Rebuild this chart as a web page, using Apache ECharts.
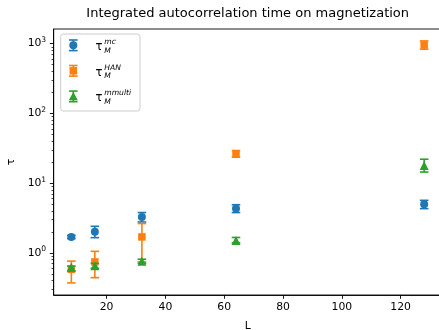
<!DOCTYPE html>
<html><head><meta charset="utf-8">
<script src="https://cdn.jsdelivr.net/npm/echarts@6/dist/echarts.min.js"></script>
<style>html,body{margin:0;padding:0;background:#fff}#c{width:439px;height:330px}</style>
</head><body><div id="c"></div>
<script>
// ---- data ----
const L = [8, 16, 32, 64, 128];
const tauMC = [1.68, 2.0, 3.27, 4.31, 4.96];
const tauMCLow = [1.6, 1.65, 2.77, 3.78, 4.3];
const tauMCHigh = [1.78, 2.4, 3.78, 4.9, 5.66];
const tauHAN = [0.58, 0.74, 1.69, 26.3, 958];
const tauHANLow = [0.37, 0.44, 0.74, 23.5, 832];
const tauHANHigh = [0.76, 1.05, 2.63, 29.3, 1094];
const tauMulti = [0.62, 0.65, 0.76, 1.5, 17.9];
const tauMultiLow = [0.553, 0.6, 0.71, 1.39, 14.4];
const tauMultiHigh = [0.646, 0.706, 0.81, 1.66, 22.0];
const xTicks = [20, 40, 60, 80, 100, 120];
const yTicks = [1, 10, 100, 1000];
const yMinorTicks = [0.3,0.4,0.5,0.6,0.7,0.8,0.9,2,3,4,5,6,7,8,9,20,30,40,50,60,70,80,90,200,300,400,500,600,700,800,900];
const seriesNames = ['mc', 'HAN', 'mmulti'];

const FONT = 'DejaVu Sans';
const colors = ['#1f77b4', '#ff7f0e', '#2ca02c'];
const symbols = ['circle', 'rect', 'triangle'];
const symSizes = [8, 7.5, 9];
const vals = [tauMC, tauHAN, tauMulti];
const lows = [tauMCLow, tauHANLow, tauMultiLow];
const highs = [tauMCHigh, tauHANHigh, tauMultiHigh];

const CAP = 4.3, LW = 1.6;
function errRender(color) {
  return function (params, api) {
    const x = api.value(0);
    const p1 = api.coord([x, api.value(1)]);
    const p2 = api.coord([x, api.value(2)]);
    const st = { stroke: color, lineWidth: LW };
    return { type: 'group', children: [
      { type: 'line', shape: { x1: p1[0], y1: p1[1], x2: p2[0], y2: p2[1] }, style: st },
      { type: 'line', shape: { x1: p1[0]-CAP, y1: p1[1], x2: p1[0]+CAP, y2: p1[1] }, style: st },
      { type: 'line', shape: { x1: p2[0]-CAP, y1: p2[1], x2: p2[0]+CAP, y2: p2[1] }, style: st }
    ]};
  };
}

const series = [];
for (let k = 0; k < 3; k++) {
  series.push({
    type: 'custom', name: seriesNames[k] + '_err', xAxisIndex: 0, yAxisIndex: 0,
    z: 2 + k * 2, silent: true,
    renderItem: errRender(colors[k]),
    encode: { x: 0, y: [1, 2] },
    data: L.map((x, i) => [x, lows[k][i], highs[k][i]])
  });
  series.push({
    type: 'scatter', name: seriesNames[k], xAxisIndex: 0, yAxisIndex: 0,
    z: 3 + k * 2, symbol: symbols[k], symbolSize: symSizes[k],
    itemStyle: { color: colors[k], opacity: 1 },
    data: L.map((x, i) => [x, vals[k][i]])
  });
}

const gridTop = 29, gridLeft = 53.7, gridW = 388.1, gridH = 266;
const yMin = Math.pow(10, -0.605), yMax = Math.pow(10, 3.21);

// legend graphic
const legendEls = [{
  type: 'rect', shape: { x: 60.7, y: 34, width: 79.3, height: 77, r: 2.5 },
  style: { fill: 'rgba(255,255,255,0.8)', stroke: '#cccccc', lineWidth: 1 }, z: 100
}];
const rowY = [45.3, 70.8, 96.4];
const ix = 73.3;
for (let k = 0; k < 3; k++) {
  const cy = rowY[k];
  const st = { stroke: colors[k], lineWidth: LW };
  legendEls.push({ type: 'line', shape: { x1: ix, y1: cy-5.3, x2: ix, y2: cy+5.3 }, style: st, z: 101 });
  legendEls.push({ type: 'line', shape: { x1: ix-CAP, y1: cy-5.3, x2: ix+CAP, y2: cy-5.3 }, style: st, z: 101 });
  legendEls.push({ type: 'line', shape: { x1: ix-CAP, y1: cy+5.3, x2: ix+CAP, y2: cy+5.3 }, style: st, z: 101 });
  let m;
  if (k === 0) m = { type: 'circle', shape: { cx: ix, cy: cy, r: 4 } };
  else if (k === 1) m = { type: 'rect', shape: { x: ix-3.75, y: cy-3.75, width: 7.5, height: 7.5 } };
  else m = { type: 'polygon', shape: { points: [[ix, cy-4.5], [ix-4.5, cy+3.8], [ix+4.5, cy+3.8]] } };
  m.style = { fill: colors[k] }; m.z = 102;
  legendEls.push(m);
  legendEls.push({ type: 'text', x: 95.5, y: cy + 2, z: 103,
    style: { text: 'τ', font: '11.5px "DejaVu Sans"', fill: '#000', textAlign: 'left', textVerticalAlign: 'middle' } });
  legendEls.push({ type: 'text', x: 104.3, y: cy - 3.2, z: 103,
    style: { text: seriesNames[k], font: 'italic 7.6px "DejaVu Sans"', fill: '#000', textAlign: 'left', textVerticalAlign: 'middle' } });
  legendEls.push({ type: 'text', x: 104.3, y: cy + 5.5, z: 103,
    style: { text: 'M', font: 'italic 7.6px "DejaVu Sans"', fill: '#000', textAlign: 'left', textVerticalAlign: 'middle' } });
}
legendEls.push({ type: 'text', x: 247.7, y: 14, z: 103,
  style: { text: 'Integrated autocorrelation time on magnetization', font: '13px "DejaVu Sans"', fill: '#000', textAlign: 'center', textVerticalAlign: 'middle' } });

const chart = echarts.init(document.getElementById('c'), null, { renderer: 'canvas' });
chart.setOption({
  animation: false,
  backgroundColor: '#fff',
  grid: { left: gridLeft, top: gridTop, width: gridW, height: gridH, show: true,
          borderColor: '#000', borderWidth: 0.9, backgroundColor: 'transparent',
          outerBoundsMode: 'none', containLabel: false },
  xAxis: [{
    type: 'value', min: 2, max: 134, name: 'L', nameLocation: 'middle', nameGap: 26,
    nameTextStyle: { fontFamily: FONT, fontSize: 10.8, color: '#000' },
    axisLine: { show: true, lineStyle: { color: '#000', width: 0.9 } },
    axisTick: { show: true, length: 3.8, lineStyle: { color: '#000', width: 0.9 }, customValues: xTicks },
    axisLabel: { fontFamily: FONT, fontSize: 10.8, color: '#000', margin: 7, customValues: xTicks },
    splitLine: { show: false }
  }],
  yAxis: [{
    type: 'log', logBase: 10, min: yMin, max: yMax, name: 'τ', nameLocation: 'middle', nameGap: 35, nameRotate: 90,
    nameTextStyle: { fontFamily: FONT, fontSize: 10.8, color: '#000' },
    axisLine: { show: true, lineStyle: { color: '#000', width: 0.9 } },
    axisTick: { show: true, length: 3.8, lineStyle: { color: '#000', width: 0.9 }, customValues: yTicks },
    axisLabel: { fontFamily: FONT, fontSize: 10.8, color: '#000', margin: 7.5, customValues: yTicks,
      formatter: function (v) { return '{b|10}{s|' + Math.round(Math.log10(v)) + '}'; },
      rich: { b: { fontFamily: FONT, fontSize: 10.8, color: '#000' },
              s: { fontFamily: FONT, fontSize: 7.6, color: '#000', padding: [0, 0, 7, 0] } } },
    splitLine: { show: false }
  }, {
    type: 'log', logBase: 10, min: yMin, max: yMax, position: 'left',
    axisLine: { show: false },
    axisTick: { show: true, length: 2.2, lineStyle: { color: '#000', width: 0.7 }, customValues: yMinorTicks },
    axisLabel: { show: false },
    splitLine: { show: false }
  }],
  graphic: legendEls,
  series: series
});
</script></body></html>
